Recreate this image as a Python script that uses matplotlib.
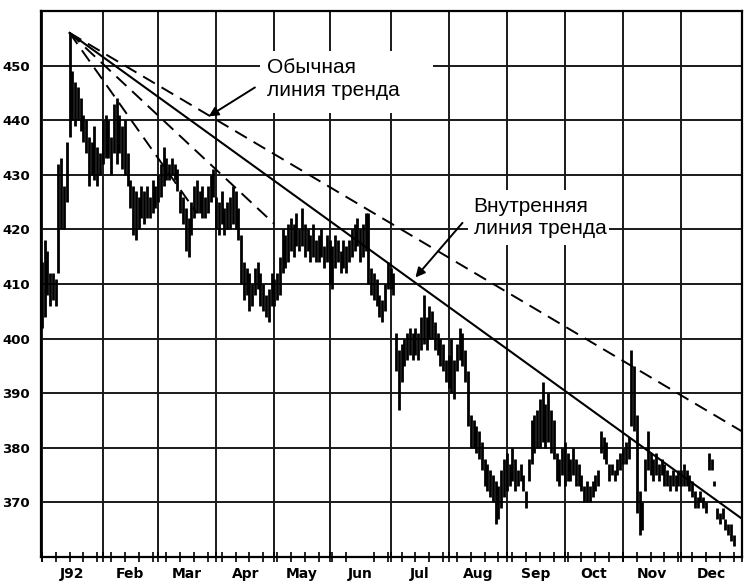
import numpy as np
import matplotlib
matplotlib.use("Agg")
import matplotlib.pyplot as plt
from matplotlib.patches import Rectangle

nan = np.nan

# дневные максимумы / минимумы по месяцам (1992)
jan_hi = [414, 418, 416, 412, 412, 411, 432, 433, 428, 436, 456, 449, 447, 446, 444, 441, 440, 437, 436, 439, 435, 434]
jan_lo = [402, 404, 408, 406, 407, 406, 412, 420, 420, 425, 437, 440, 439, 440, 438, 436, 434, 428, 430, 429, 428, 430]
feb_hi = [440, 441, 440, 437, 443, 444, 441, 439, 440, 434, 429, 428, 427, 426, 428, 427, 428, 426, 429, 428]
feb_lo = [432, 433, 433, 430, 434, 432, 434, 431, 430, 428, 424, 419, 418, 420, 422, 421, 422, 422, 423, 424]
mar_hi = [430, 432, 435, 433, 432, 433, 432, 431, 427, 426, 424, 422, 425, 428, 429, 427, 428, 426, 428, 430, 431]
mar_lo = [425, 426, 428, 429, 429, 430, 429, 427, 423, 421, 416, 415, 419, 422, 423, 423, 422, 422, 423, 425, 426]
apr_hi = [426, 425, 427, 424, 425, 426, 428, 427, 424, 419, 414, 413, 412, 410, 413, 414, 412, 410, 408, 409, 412]
apr_lo = [420, 419, 421, 419, 420, 420, 421, 420, 418, 410, 407, 408, 405, 406, 408, 409, 406, 405, 404, 403, 406]
may_hi = [411, 412, 415, 420, 419, 421, 422, 421, 423, 420, 424, 421, 420, 419, 421, 418, 419, 420, 417, 419]
may_lo = [406, 407, 408, 412, 413, 414, 416, 415, 417, 416, 417, 415, 416, 414, 415, 414, 414, 415, 413, 414]
jun_hi = [418, 417, 419, 418, 416, 418, 417, 418, 420, 421, 422, 420, 421, 423, 423, 413, 412, 411, 408, 407, 410, 414]
jun_lo = [410, 409, 413, 414, 412, 413, 412, 414, 415, 416, 417, 414, 415, 416, 410, 408, 407, 406, 404, 403, 405, 409]
jul_hi = [413, 412, 401, 398, 399, 400, 401, 402, 401, 402, 401, 404, 408, 404, 406, 405, 403, 401, 400, 399, 396]
jul_lo = [409, 408, 394, 387, 392, 395, 396, 397, 396, 397, 396, 398, 399, 398, 400, 400, 398, 397, 395, 394, 392]
aug_hi = [397, 400, 396, 399, 402, 401, 398, 394, 386, 385, 384, 383, 381, 378, 377, 376, 375, 374, 373, 376, 378]
aug_lo = [391, 390, 389, 394, 396, 395, 392, 384, 380, 380, 379, 378, 376, 373, 372, 371, 370, 366, 367, 369, 371]
sep_hi = [379, 377, 380, 378, 376, 377, 375, 372, 378, 385, 386, 387, 389, 392, 388, 390, 387, 385, 379, 378, 380]
sep_lo = [372, 373, 374, 372, 373, 374, 372, 369, 374, 377, 379, 380, 380, 381, 380, 381, 379, 378, 374, 373, 375]
oct_hi = [381, 379, 378, 380, 378, 377, 375, 373, 374, 373, 374, 375, 376, 383, 382, 381, 377, 377, 376, 378, 379]
oct_lo = [373, 374, 374, 375, 373, 373, 372, 370, 370, 370, 371, 372, 373, 379, 378, 377, 374, 375, 374, 375, 376]
nov_hi = [380, 381, 382, 398, 395, 386, 372, 370, 378, 383, 379, 378, 379, 377, 378, 377, 376, 375, 376, 375, 376]
nov_lo = [377, 377, 378, 384, 383, 368, 364, 365, 372, 376, 375, 374, 375, 374, 375, 373, 373, 372, 373, 372, 373]
dec_hi = [376, 377, 376, 375, 374, 372, 371, 372, 371, 370, 379, 378, 374, 369, 368, 369, 367, 366, 366, 364, nan, nan]
dec_lo = [373, 373, 373, 372, 371, 369, 369, 370, 369, 368, 376, 376, 373, 367, 366, 367, 365, 364, 363, 362, nan, nan]

highs = jan_hi + feb_hi + mar_hi + apr_hi + may_hi + jun_hi + jul_hi + aug_hi + sep_hi + oct_hi + nov_hi + dec_hi
lows = jan_lo + feb_lo + mar_lo + apr_lo + may_lo + jun_lo + jul_lo + aug_lo + sep_lo + oct_lo + nov_lo + dec_lo

month_labels = ["J92", "Feb", "Mar", "Apr", "May", "Jun", "Jul", "Aug", "Sep", "Oct", "Nov", "Dec"]
month_starts = [0, 22, 42, 63, 84, 104, 126, 147, 168, 189, 210, 231, 253]
y_ticks = [370, 380, 390, 400, 410, 420, 430, 440, 450]

# линии тренда: вершина и концы (торговый день, цена)
apex = (10, 456)
solid_end = (253, 367)
outer_end = (253, 383)
inner_ends = [(84, 421), (56, 423)]

fig = plt.figure(figsize=(7.5, 5.85), dpi=100)
ax = fig.add_axes([0.0547, 0.0479, 0.9346, 0.9333])

days = np.arange(len(highs))
ax.vlines(days, lows, highs, color="black", lw=2.0, zorder=3)

# сетка
for m in month_starts:
    ax.axvline(m, color="#1a1a1a", lw=1.4, zorder=1)
for v in range(360, 461, 10):
    ax.axhline(v, color="#1a1a1a", lw=1.4, zorder=1)

# линии тренда
ax.plot([apex[0], solid_end[0]], [apex[1], solid_end[1]], color="black", lw=1.5, zorder=4)
ax.plot([apex[0], outer_end[0]], [apex[1], outer_end[1]], color="black", lw=1.4,
        dashes=(7, 4), zorder=4)
for e in inner_ends:
    ax.plot([apex[0], e[0]], [apex[1], e[1]], color="black", lw=1.4, dashes=(7, 4), zorder=4)

# подписи
ax.add_patch(Rectangle((79, 441.4), 62.5, 11.2, facecolor="white", edgecolor="none", zorder=2))
ax.add_patch(Rectangle((154, 417.2), 51, 10.1, facecolor="white", edgecolor="none", zorder=2))
ax.text(81.5, 447.6, "Обычная\nлиния тренда", fontsize=15, family="Liberation Sans",
        va="center", ha="left", linespacing=1.25, zorder=5)
ax.text(156, 422.2, "Внутренняя\nлиния тренда", fontsize=15, family="Liberation Sans",
        va="center", ha="left", linespacing=1.25, zorder=5)
arrow = dict(arrowstyle="-|>", color="black", lw=1.4, mutation_scale=14, shrinkA=0, shrinkB=0)
ax.annotate("", xy=(60.3, 440.7), xytext=(77, 446), arrowprops=arrow, zorder=5)
ax.annotate("", xy=(135, 411.2), xytext=(152, 421.2), arrowprops=arrow, zorder=5)

ax.set_xlim(-0.3, 253)
ax.set_ylim(360, 460)

mids = [(month_starts[i] + month_starts[i + 1]) / 2 for i in range(12)]
ax.set_xticks(mids)
ax.set_xticklabels(month_labels, fontsize=10, fontweight="bold")
ax.set_xticks(list(range(0, 253, 5)) + month_starts, minor=True)
ax.tick_params(axis="x", which="major", length=0, pad=7)
ax.tick_params(axis="x", which="minor", length=7, width=1.2, direction="inout")
ax.set_yticks(y_ticks)
ax.set_yticklabels([str(v) for v in y_ticks], fontsize=9.5, fontweight="bold")
ax.tick_params(axis="y", length=0, pad=8)

for s in ax.spines.values():
    s.set_linewidth(1.6)
    s.set_color("black")

fig.savefig("out.png", dpi=100)
